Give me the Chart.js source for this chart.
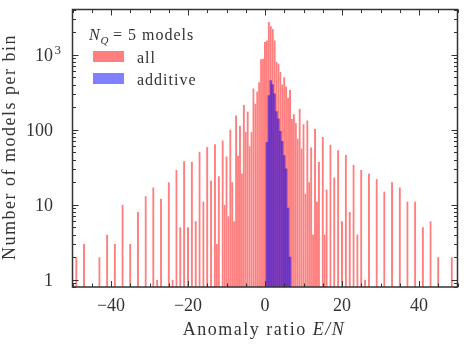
<!DOCTYPE html>
<html>
<head>
<meta charset="utf-8">
<script src="https://cdn.jsdelivr.net/npm/chart.js@4"></script>
<style>
  html, body { margin: 0; padding: 0; background: #fff; }
  canvas { display: block; }
</style>
</head>
<body>
<canvas id="myChart" width="467" height="350"></canvas>
<script>
// histogram bins (centre of each 0.5 wide bin, value of E/N) and counts
const allBins = [
  -49, -47, -43, -41, -39, -37, -35, -33, -31, -29, -28, -27, -25, -24, -23, -22, -21, -20, -19, -18,
  -17, -16, -15, -14, -13, -12.5, -12, -11, -10.5, -10,
  -9.5, -9, -8.5, -8, -7.5, -7, -6.5, -6, -5.5, -5, -4.5, -4, -3.5, -3, -2.5, -2, -1.5, -1, -0.5,
  0, 0.5, 1, 1.5, 2, 2.5, 3, 3.5, 4, 4.5, 5, 5.5, 6, 6.5, 7, 7.5, 8, 8.5, 9, 9.5, 10, 10.5,
  11, 11.5, 12, 12.5, 13, 13.5, 14, 15, 15.5, 16, 17, 18, 19, 20, 21, 22, 23, 24, 25, 26, 27,
  29, 31, 33, 35, 37, 39, 41, 43, 45, 48.5
];
const allCounts = [
  2, 3, 2, 4, 3, 10, 3, 8, 13, 17, 1, 12, 20, 1, 29, 5, 38, 5, 37, 6,
  51, 11, 59, 21, 64, 3, 24, 72, 10, 44,
  7, 100, 20, 6, 155, 45, 112, 26, 215, 93, 175, 60, 93, 355, 222, 324, 430, 870, 880,
  1480, 1550, 2720, 2400, 2200, 1550, 800, 760, 590, 400, 500, 375, 267, 340, 140, 160, 123, 76, 190, 56, 118, 14,
  133, 20, 58, 4, 103, 11, 37, 80, 4, 16, 63, 23, 53, 6, 46, 8, 34, 4, 29, 1, 26,
  22, 15, 20, 17, 11, 11, 5, 6, 2, 2
];
const additiveBins = [0.5, 1, 1.5, 2, 2.5, 3, 3.5, 4, 4.5, 5, 5.5, 6, 6.5];
const additiveCounts = [68, 285, 450, 400, 300, 175, 140, 95, 70, 45, 30, 9, 2];

const xTicks = [-40, -20, 0, 20, 40];
const yTicks = [1, 10, 100, 1000];
const yTickLabels = ['1', '10', '100', '10^3'];

const serif = '"Liberation Serif", "DejaVu Serif", serif';
const ink = '#333';

// frame, inward ticks, tick labels on y, axis titles and legend
const decorations = {
  id: 'decorations',
  afterDraw(chart) {
    const ctx = chart.ctx;
    const area = chart.chartArea;
    const xs = chart.scales.x;
    const ys = chart.scales.y;
    ctx.save();
    ctx.strokeStyle = ink;
    ctx.fillStyle = ink;

    // ticks on all four sides
    ctx.lineWidth = 1;
    ctx.beginPath();
    for (let v = -50; v <= 50; v += 5) {
      const len = v % 20 === 0 ? 6 : 3.5;
      const px = Math.round(xs.getPixelForValue(v)) + 0.5;
      ctx.moveTo(px, area.bottom); ctx.lineTo(px, area.bottom - len);
      ctx.moveTo(px, area.top); ctx.lineTo(px, area.top + len);
    }
    for (let d = 0.1; d <= 1000; d *= 10) {
      for (let m = 1; m <= 9; m++) {
        const v = d * m;
        if (v < ys.min || v > ys.max) continue;
        const len = m === 1 ? 6 : 3.5;
        const py = Math.round(ys.getPixelForValue(v)) + 0.5;
        ctx.moveTo(area.left, py); ctx.lineTo(area.left + len, py);
        ctx.moveTo(area.right, py); ctx.lineTo(area.right - len, py);
      }
    }
    ctx.stroke();

    ctx.lineWidth = 1.5;
    ctx.strokeRect(area.left, area.top, area.right - area.left, area.bottom - area.top);

    // y tick labels
    ctx.textAlign = 'right';
    ctx.textBaseline = 'alphabetic';
    yTicks.forEach((v, i) => {
      const py = ys.getPixelForValue(v) + 6;
      const parts = yTickLabels[i].split('^');
      ctx.font = '18px ' + serif;
      ctx.fillText(parts[0], 53, py);
      if (parts[1]) {
        ctx.textAlign = 'left';
        ctx.font = '13px ' + serif;
        ctx.fillText(parts[1], 54.5, py - 7);
        ctx.textAlign = 'right';
      }
    });

    // axis titles
    ctx.letterSpacing = '1.5px';
    ctx.textAlign = 'left';
    const t1 = 'Anomaly ratio ';
    const t2 = 'E/N';
    ctx.font = '18px ' + serif;
    const w1 = ctx.measureText(t1).width;
    ctx.font = 'italic 18px ' + serif;
    const w2 = ctx.measureText(t2).width;
    const x0 = 264 - (w1 + w2) / 2;
    ctx.font = '18px ' + serif;
    ctx.fillText(t1, x0, 335);
    ctx.font = 'italic 18px ' + serif;
    ctx.fillText(t2, x0 + w1, 335);

    ctx.save();
    ctx.translate(14.5, 147);
    ctx.rotate(-Math.PI / 2);
    ctx.textAlign = 'center';
    ctx.font = '18px ' + serif;
    ctx.fillText('Number of models per bin', 0, 0);
    ctx.restore();

    // legend
    ctx.letterSpacing = '1px';
    ctx.textAlign = 'left';
    ctx.font = 'italic 16px ' + serif;
    ctx.fillText('N', 89, 40);
    ctx.font = 'italic 11px ' + serif;
    ctx.fillText('Q', 100.5, 43.5);
    ctx.font = '16px ' + serif;
    ctx.fillText('= 5 models', 113, 40);
    chart.data.datasets.forEach((ds, i) => {
      const top = 51 + i * 22;
      ctx.fillStyle = ds.backgroundColor;
      ctx.fillRect(93, top, 31, 11);
      ctx.fillStyle = ink;
      ctx.fillText(ds.label, 137, top + 11.5);
    });
    ctx.restore();
  }
};

const ctx = document.getElementById('myChart').getContext('2d');
const chart = new Chart(ctx, {
  type: 'bar',
  data: {
    datasets: [
      {
        label: 'all',
        data: allBins.map((x, i) => ({ x: x, y: allCounts[i] })),
        backgroundColor: 'rgba(255, 0, 0, 0.5)',
        borderColor: 'rgba(255, 255, 255, 0.5)',
        borderWidth: { left: 0.3, right: 0.3, top: 0, bottom: 0 },
        borderSkipped: false,
        grouped: false,
        order: 2
      },
      {
        label: 'additive',
        data: additiveBins.map((x, i) => ({ x: x, y: additiveCounts[i] })),
        backgroundColor: 'rgba(0, 0, 255, 0.5)',
        grouped: false,
        order: 1
      }
    ]
  },
  options: {
    responsive: false,
    animation: false,
    barPercentage: 1,
    categoryPercentage: 1,
    layout: { padding: { left: 0, right: 9.5, top: 9.5, bottom: 0 } },
    plugins: { legend: { display: false }, tooltip: { enabled: false } },
    scales: {
      x: {
        type: 'linear',
        min: -50,
        max: 50,
        offset: false,
        grid: { display: false, drawTicks: false },
        border: { display: false },
        afterBuildTicks: scale => { scale.ticks = xTicks.map(v => ({ value: v })); },
        afterFit: scale => { scale.height = 63; },
        ticks: {
          autoSkip: false,
          maxRotation: 0,
          padding: 8,
          color: ink,
          font: { family: serif, size: 18 },
          callback: v => (v < 0 ? '\u2212' + Math.abs(v) : String(v))
        }
      },
      y: {
        type: 'logarithmic',
        min: 0.8,
        max: 4000,
        grid: { display: false, drawTicks: false },
        border: { display: false },
        ticks: { display: false },
        afterFit: scale => { scale.width = 72.5; }
      }
    }
  },
  plugins: [decorations]
});
</script>
</body>
</html>
